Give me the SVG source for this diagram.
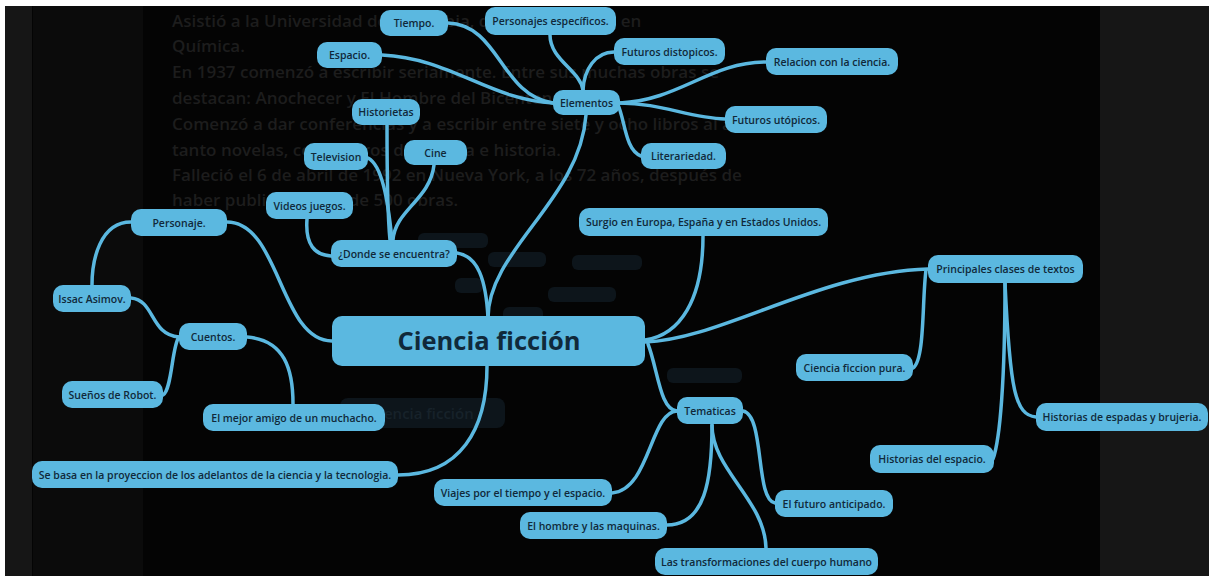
<svg xmlns="http://www.w3.org/2000/svg" width="1213" height="576" viewBox="0 0 1213 576">
<style>
.bgt{font-family:"Open Sans","Noto Sans",sans-serif;font-weight:600;font-size:17px;fill:#1d1d1d}
.n rect{fill:#5bb8e0}
.n text{font-family:"Open Sans","Noto Sans",sans-serif;font-weight:600;font-size:10.5px;fill:#10293a;text-anchor:middle}
.c path{fill:none;stroke:#5bb8e0;stroke-width:3.5;stroke-linecap:round}
.g rect{fill:#0d151b}
</style>
<rect width="1213" height="576" fill="#ffffff"/>
<rect x="5" y="6" width="1204" height="570" fill="#040404"/>
<rect x="5" y="6" width="27" height="570" fill="#161616"/>
<rect x="33" y="6" width="110" height="570" fill="#0b0b0b"/>
<rect x="1100" y="6" width="109" height="570" fill="#161616"/>
<g id="background-text">
<text class="bgt" x="172" y="27">Asistió a la Universidad de Columbia, donde se graduó en</text>
<text class="bgt" x="172" y="52">Química.</text>
<text class="bgt" x="172" y="78">En 1937 comenzó a escribir seriamente. Entre sus muchas obras se</text>
<text class="bgt" x="172" y="104">destacan: Anochecer y El Hombre del Bicentenario.</text>
<text class="bgt" x="172" y="130">Comenzó a dar conferencias y a escribir entre siete y ocho libros al año,</text>
<text class="bgt" x="172" y="156">tanto novelas, como libros de ciencia e historia.</text>
<text class="bgt" x="172" y="181">Falleció el 6 de abril de 1992 en Nueva York, a los 72 años, después de</text>
<text class="bgt" x="172" y="206">haber publicado más de 500 obras.</text>
</g>
<g id="ghost" class="g">
<rect x="418" y="233" width="70" height="15" rx="6"/>
<rect x="488" y="252" width="58" height="15" rx="6"/>
<rect x="572" y="255" width="70" height="15" rx="6"/>
<rect x="548" y="287" width="68" height="15" rx="6"/>
<rect x="455" y="278" width="28" height="15" rx="6"/>
<rect x="503" y="307" width="40" height="15" rx="6"/>
<rect x="667" y="368" width="75" height="15" rx="6"/>
<rect x="340" y="398" width="165" height="30" rx="8"/>
<text x="422" y="419" style="font-family:'Open Sans',sans-serif;font-weight:600;font-size:15px;fill:#17222a;text-anchor:middle">Ciencia ficción</text>
</g>
<g id="connectors" class="c">
<path d="M488,318 C488,250 580,200 586,115"/>
<path d="M457,253 C478,256 486,280 488,318"/>
<path d="M387,125 C387,180 388,220 390,240"/>
<path d="M368,158 C382,165 388,200 392,240"/>
<path d="M434,165 C430,200 395,210 393,240"/>
<path d="M307,219 C305,245 315,255 331,256"/>
<path d="M448,23 C500,25 500,95 553,103"/>
<path d="M382,55 C450,58 490,100 553,103"/>
<path d="M550,35 C550,60 580,70 583,90"/>
<path d="M614,52 C595,52 584,70 583,90"/>
<path d="M766,62 C710,62 680,100 620,103"/>
<path d="M725,119 C690,118 660,103 620,103"/>
<path d="M641,156 C625,150 625,120 618,105"/>
<path d="M227,222 C280,222 280,341 332,341"/>
<path d="M131,222 C100,222 92,260 92,285"/>
<path d="M131,298 C155,300 150,335 179,337"/>
<path d="M179,337 C172,345 172,390 163,395"/>
<path d="M247,337 C285,340 293,370 293,404"/>
<path d="M487,366 C487,430 460,475 398,475"/>
<path d="M703,236 C703,300 680,335 645,340"/>
<path d="M928,269 C820,272 720,340 645,342"/>
<path d="M926,270 C922,300 925,360 913,368"/>
<path d="M1005,283 C1005,380 1000,440 993,459"/>
<path d="M1005,283 C1010,390 1015,415 1036,417"/>
<path d="M648,344 C658,370 660,410 677,411"/>
<path d="M612,493 C650,490 650,412 677,411"/>
<path d="M712,425 C712,480 705,525 667,525"/>
<path d="M712,425 C712,470 765,500 766,548"/>
<path d="M743,411 C765,415 755,500 775,503"/>
</g>
<g id="n-central" class="n"><rect x="332" y="316" width="313" height="50" rx="10"/><text x="489" y="350" style="font-size:25.5px;font-weight:700">Ciencia ficción</text></g>
<g id="n-tiempo" class="n"><rect x="380" y="10" width="68" height="26" rx="10"/><text x="414" y="27">Tiempo.</text></g>
<g id="n-personajes" class="n"><rect x="485" y="7" width="131" height="28" rx="10"/><text x="550.5" y="25">Personajes específicos.</text></g>
<g id="n-espacio" class="n"><rect x="317" y="42" width="65" height="26" rx="10"/><text x="349.5" y="59">Espacio.</text></g>
<g id="n-distopicos" class="n"><rect x="614" y="38" width="111" height="27" rx="10"/><text x="669.5" y="55.5">Futuros distopicos.</text></g>
<g id="n-relacion" class="n"><rect x="766" y="48" width="132" height="27" rx="10"/><text x="832" y="65.5">Relacion con la ciencia.</text></g>
<g id="n-elementos" class="n"><rect x="553" y="90" width="67" height="25" rx="10"/><text x="586.5" y="106.5">Elementos</text></g>
<g id="n-utopicos" class="n"><rect x="725" y="106" width="102" height="27" rx="10"/><text x="776" y="123.5">Futuros utópicos.</text></g>
<g id="n-literariedad" class="n"><rect x="641" y="143" width="85" height="26" rx="10"/><text x="683.5" y="160">Literariedad.</text></g>
<g id="n-historietas" class="n"><rect x="352" y="99" width="68" height="26" rx="10"/><text x="386" y="116">Historietas</text></g>
<g id="n-television" class="n"><rect x="304" y="143" width="64" height="27" rx="10"/><text x="336" y="160.5">Television</text></g>
<g id="n-cine" class="n"><rect x="404" y="140" width="63" height="25" rx="10"/><text x="435.5" y="156.5">Cine</text></g>
<g id="n-videos" class="n"><rect x="266" y="192" width="87" height="27" rx="10"/><text x="309.5" y="209.5">Videos juegos.</text></g>
<g id="n-donde" class="n"><rect x="331" y="240" width="126" height="27" rx="10"/><text x="394" y="257.5">¿Donde se encuentra?</text></g>
<g id="n-personaje" class="n"><rect x="131" y="209" width="96" height="27" rx="10"/><text x="179" y="226.5">Personaje.</text></g>
<g id="n-issac" class="n"><rect x="53" y="285" width="78" height="27" rx="10"/><text x="92" y="302.5">Issac Asimov.</text></g>
<g id="n-cuentos" class="n"><rect x="179" y="323" width="68" height="27" rx="10"/><text x="213" y="340.5">Cuentos.</text></g>
<g id="n-suenos" class="n"><rect x="62" y="381" width="101" height="27" rx="10"/><text x="112.5" y="398.5">Sueños de Robot.</text></g>
<g id="n-amigo" class="n"><rect x="203" y="404" width="182" height="27" rx="10"/><text x="294" y="421.5">El mejor amigo de un muchacho.</text></g>
<g id="n-basa" class="n"><rect x="32" y="461" width="366" height="27" rx="10"/><text x="215" y="478.5">Se basa en la proyeccion de los adelantos de la ciencia y la tecnologia.</text></g>
<g id="n-surgio" class="n"><rect x="579" y="208" width="249" height="28" rx="10"/><text x="703.5" y="226">Surgio en Europa, España y en Estados Unidos.</text></g>
<g id="n-principales" class="n"><rect x="928" y="255" width="155" height="28" rx="10"/><text x="1005.5" y="273">Principales clases de textos</text></g>
<g id="n-pura" class="n"><rect x="796" y="354" width="117" height="27" rx="10"/><text x="854.5" y="371.5">Ciencia ficcion pura.</text></g>
<g id="n-espadas" class="n"><rect x="1036" y="403" width="172" height="28" rx="10"/><text x="1122" y="421">Historias de espadas y brujeria.</text></g>
<g id="n-hespacio" class="n"><rect x="870" y="445" width="124" height="28" rx="10"/><text x="932" y="463">Historias del espacio.</text></g>
<g id="n-tematicas" class="n"><rect x="677" y="397" width="66" height="27" rx="10"/><text x="710" y="414.5">Tematicas</text></g>
<g id="n-viajes" class="n"><rect x="434" y="479" width="178" height="27" rx="10"/><text x="523" y="496.5">Viajes por el tiempo y el espacio.</text></g>
<g id="n-hombre" class="n"><rect x="520" y="512" width="147" height="27" rx="10"/><text x="593.5" y="529.5">El hombre y las maquinas.</text></g>
<g id="n-futuro" class="n"><rect x="775" y="490" width="118" height="27" rx="10"/><text x="834" y="507.5">El futuro anticipado.</text></g>
<g id="n-transform" class="n"><rect x="655" y="548" width="223" height="27" rx="10"/><text x="766.5" y="565.5">Las transformaciones del cuerpo humano</text></g>
</svg>
